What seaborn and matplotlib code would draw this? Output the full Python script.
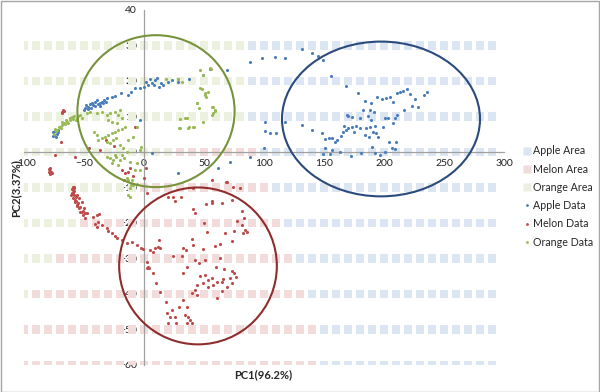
import numpy as np
import pandas as pd
import matplotlib
matplotlib.use("Agg")
import matplotlib.pyplot as plt
import seaborn as sns
from matplotlib.patches import Ellipse, Rectangle
from matplotlib.lines import Line2D

# area map: one string per row, one letter per cell (x = -100..290 step 10)
area_x = list(range(-100, 300, 10))
area_y = [30, 20, 10, 0, -10, -20, -30, -40, -50, -60]
area_rows = [
    "O" * 19 + "A" * 21,
    "O" * 19 + "A" * 21,
    "O" * 19 + "A" * 21,
    "O" * 13 + "M" * 7 + "A" * 20,
    "O" * 10 + "M" * 11 + "A" * 19,
    "O" * 5 + "M" * 17 + "A" * 18,
    "O" * 3 + "M" * 20 + "A" * 17,
    "O" * 1 + "M" * 23 + "A" * 16,
    "M" * 25 + "A" * 15,
    "M" * 25 + "A" * 15,
]
area_names = {"A": "Apple Area", "M": "Melon Area", "O": "Orange Area"}

apple_x = [-75.5, -74.7, -73.6, -72.8, -71.4, -76, -74, -72,
           -49, -48, -46.4, -43.6, -42.2, -40.8, -38.6, -36.7, -35, -33, -31, -50, -47, -45, -44, -41,
           -39, -37, -34, -32, -27, -24, -19, -13, -11, -7.5, 0.3, 3.6, 6.4, 9, 12.5, 16, 19.7, 23,
           28.6, 37.5, 49.4, 55, 69, 2, 5, 8, 11, 14, -3,
           -3.3, 7, 28, 62, 71.6, 88, 100,
           88, 98.6, 109, 117.5, 131.4, 139.7, 144.7, 149, 155.6, 168,
           101, 101, 105, 110, 117.5, 132, 140,
           178, 184, 189, 194, 169, 170, 173, 180, 182.8, 188, 191.7, 186.7, 189, 198, 202, 205,
           207.6, 210.5, 213, 215.8, 219, 221.7, 226, 228, 233, 236, 223, 216.7, 210.5, 209, 207.6,
           203.6, 201, 199.4, 192.5, 188, 185, 180, 176.7, 173, 170, 166.7, 165.6, 168.6, 175, 184,
           190.6, 193, 195, 187.5, 164, 160.8, 159, 157, 154.5, 150.8, 148, 150.8, 149.4, 155, 157,
           163, 172.5, 181, 189.7, 192.5, 196.7, 201, 204.4, 207, 210, 209]
apple_y = [5.5, 4.8, 4.3, 5.2, 5.7, 4.4, 6.0, 6.3,
           12.3, 13.2, 12.8, 13.7, 13.1, 14.2, 13.5, 13.7, 14.2, 14.6, 15.1, 11.8, 12.0, 13.5, 12.5, 13.0,
           14.6, 12.9, 13.9, 14.0, 15.6, 15.9, 16.5, 16, 16.9, 17.9, 18.4, 18.9, 19.4, 20.3, 18.4, 18.9, 19.8, 20.3,
           19.8, 20.5, 21.7, 23.3, 23.1, 19.8, 20.6, 19.0, 20.8, 19.5, 18.0,
           9, -0.4, -6, -4.6, -2.7, -1.3, 1,
           25.4, 26.5, 26.8, 26.4, 28.9, 27.8, 27, 25.9, 21.4, 18.6,
           8.5, 5.9, 5.3, 5.3, 8.5, 7.6, 6.2,
           16.5, 14.5, 13.7, 15.6, 10.4, 10, 9.8, 9.5, 11.8, 11.8, 11.4, 10.1, 9, 14.8, 15.1, 15.6,
           14.2, 16.5, 16.8, 17.3, 17.7, 16.3, 14.8, 12.8, 16, 17, 13, 11.8, 10.4, 9.5, 8.3,
           9.5, 9.5, 7.1, 7.3, 7.1, 6.7, 6.7, 7.3, 7.1, 6.7, 7.3, 5.7, 6.2, 5.7, 4.8,
           5.7, 5.3, 4.3, 4.3, 4.5, 3.4, 2.9, 3.9, 3.9, 3.6, 5.4, 1, -0.6, -0.6, 0.6,
           0, -1.1, -0.4, 1.5, -0.4, -0.8, 0.1, 2.9, 1, 2.9, 0.8]

melon_x = [-79, -78.3, -78, -77.5, -77, -79.5, -78.5,
           -68.6, -67.8, -67, -68.5, -69.4, -74, -57.5, -36.7, -31.7, -24.7, -7.5, -13, -18.6, -11.7,
           -17, -15.8, 1.4, 0.3, 2.2, -46, -9.4,
           56.4, 68.3, 74.4, 20.3, 24.4, 25.8, 30.6, 41, 42.5, 51.7, 56.4, 56.4, 64.7, 73, 81.4, 77.2,
           83.3, 81.4, 84, 82.8, 85.6, 75.3, 67.5, 73, 63.3, 59, 50.3, 52.2, 39.7, 41, 49.4, 32.2, 35,
           24, 31.4, 42.5, 46, 50.8, 63.3, 59.7, 67, 73, 75.3, 76.7, 71.7, 73, 69, 66, 64.7, 60.6, 57.8,
           56.4, 53.6, 50.8, 46.7, 43.9, 48.9, 53.6, 64.7, 60.6, 35.6, 32.2, 42.5, 39.7, 43.9, 32.8,
           29.4, 35.6, 34, 36.9, 38.3, 39.7, 35.6, 25.8, 26.7, 21.7, 20.3, 18.9, 23, 18.3, 13.3, 10,
           7.8, 3.6, 4.4, 2.2, 2.8, 7.8, 9.2, 11.9, 13.3, 12.8, 5, -0.5, -2.8, -6, -10.3, -14.4, -18.6,
           -22.2, -24, -27, -29.7, -31, -35.3, -38, -39.4, -40.8, -42.8, -39, -37.2, -49, -50.6, -47.8,
           -52, -54, -55.5, -57.5, -59, -60.3, -59.5, -58.3,
           -60, -59.5, -58.5, -58, -57, -56.5, -55, -54.5, -53, -52, -51, -50, -49, -56, -57.8, -60.5,
           -59, -58, -55.8, -53.5, 41, 69, 80]
melon_y = [-4.8, -4.6, -5.3, -5.5, -6.0, -5.5, -6.2,
           11.4, 11.9, 11.6, 11, 2.9, -0.8, -1.3, 0.6, 3.4, 1.7, 7, -5.5, -5, -4.6,
           -7.9, -6, -4.6, -7.4, -11.6, 1, -6.9,
           -7.9, -8.4, -10, -12.8, -12.6, -13.7, -12.8, -16.2, -17.3, -14.6, -14.5, -13.7, -14.5, -13.4, -16.5, -19.4,
           -18.7, -20.6, -22, -22.7, -22.5, -22.3, -22.9, -25, -25.9, -26.5, -19.9, -22.5, -24.6, -26.2, -27.4, -27.1, -27.6,
           -29.3, -29.3, -30.4, -31.4, -30.4, -30, -32.3, -33, -33.4, -34.2, -35.1, -35.6, -37, -37.9, -35.9, -36.5, -36.5, -37.5,
           -35.6, -36, -34.6, -34.9, -37.5, -37, -38.1, -39.3, -41.2, -32.3, -34.2, -38.9, -39.8, -40.3, -41.7,
           -43.6, -43.6, -45.9, -46.4, -47.3, -48.3, -48.3, -46.4, -48.3, -46.4, -48.3, -45.4, -44.5, -42.2, -39.4, -36.8,
           -34, -32.3, -32.7, -32.7, -30.9, -28.1, -27.1, -26.7, -27.1, -24.8, -27.6, -27.4, -27.1, -26.2, -25.3, -25.7, -24.8,
           -24.3, -23.7, -22.7, -22.2, -21.5, -20.6, -19.6, -21, -20.3, -18.4, -17.7, -17.5, -18.7, -17.7, -17.3,
           -16.8, -15.9, -14.9, -14, -13, -11.6, -10.7, -9.8,
           -10.5, -11.5, -12.2, -11, -12.8, -13.8, -14.5, -13, -15.5, -14.2, -16.5, -15.8, -17.2, -15.2, -13.5, -12.2,
           -9.8, -10.1, -12, -16.8, -10.2, -8.4, -10.2]

orange_x = [-72.8, -70, -68.6, -67, -64.4, -61.7, -59, -56,
            -75, -74, -73, -71, -69.5, -68, -66, -65, -63, -62, -60, -58, -57, -55, -53, -52,
            -47.8, -45, -39.4, -35, -31, -28.6, -24, -20, -21.4, -29.7, -27, -22.8, -18.6,
            -42, -39.4, -38, -35, -32.5, -29.7, -27, -24, -21.4, -18.6, -15.8, -31, -28.6, -25.8, -23,
            -20, -17.2, -13, -9, -6, -31, -28.6, -25.6, -23, -20, -17, -27, -21.4, -24, -18.6, -14.4,
            -11.7, -6, -7.5, -3.3, -14.4, -10, -9, -6, -11.7, -13, -13, -10.8, -11.7, -2.8, -3.3,
            43.9, 46.7, 50.8, 49, 55, 57, 59, 57.8, 52, 34, 30, 37, 41, 28.6, 46.7, 55.6, 48, 53.6, 50.6,
            44, 46, 57.8, 59, 57, 30, 35.6, 29.4, 37.8, 42, 49.4, 18, 28.6, 31.4]
orange_y = [6.2, 7.1, 7.6, 8.1, 8.5, 9, 9.2, 9.5,
            5.2, 6.5, 5.8, 7.0, 6.8, 8.5, 7.8, 9.0, 8.2, 9.6, 9.8, 10.2, 9.0, 10.0, 10.5, 9.6,
            10.9, 11.3, 10.9, 11.4, 10.4, 10.9, 11.4, 11.8, 10.4, 9, 8.5, 8.1, 9.5,
            5.7, 4.8, 3.4, 3.8, 4.3, 4.8, 5.3, 5.7, 6.2, 6.6, 7.1, 2.9, 2.4, 3.3, 3.8,
            2, 1, 3.4, 4.3, 7.1, -1.3, -1.8, -2.3, -1.3, -2.3, -1.8, -3.2, -3.6, -0.8, -0.8, 0.1,
            -2.7, -3.2, -5, -5, -7.4, -8, -9.3, -8.9, -10.2, -12.1, -7.9, -9.3, -12.6, 1.5, 0.6,
            13.7, 17.9, 16.5, 21.7, 23.6, 12.8, 11.8, 10.9, 15.6, 9.5, 6.7, 6.7, 7.1, 20.7, 23.1, 23.4, 17.7, 16.9, 16,
            13.7, 12.3, 12.8, 11.6, 10.4, 9.2, 9.5, 6.7, 7, 7.1, 8.5, 20.7, 20.7, 19.8]

AREA_COLORS = {"Apple Area": "#DCE6F2", "Melon Area": "#F2DCDB", "Orange Area": "#EBF1DE"}
DATA_COLORS = {"Apple Data": "#4A7EBB", "Melon Data": "#BE4B48", "Orange Data": "#98B954"}


def main():
    sns.set_style("white")
    plt.rcParams["font.family"] = ["Lato", "DejaVu Sans"]

    grid = pd.DataFrame(
        [(x, y, area_names[c]) for y, row in zip(area_y, area_rows) for x, c in zip(area_x, row)],
        columns=["x", "y", "area"],
    )

    fig = plt.figure(figsize=(6, 3.92), dpi=100)
    ax = fig.add_axes([0.04, 0.069, 0.80, 0.9055])

    sns.scatterplot(data=grid, x="x", y="y", hue="area", palette=AREA_COLORS,
                    marker="s", s=34, linewidth=0, legend=False, ax=ax, zorder=1)

    for name, xs, ys in [("Apple Data", apple_x, apple_y),
                         ("Melon Data", melon_x, melon_y),
                         ("Orange Data", orange_x, orange_y)]:
        sns.scatterplot(x=xs, y=ys, color=DATA_COLORS[name], s=5, linewidth=0,
                        legend=False, ax=ax, zorder=3)

    # hand-drawn style circles
    ax.add_patch(Ellipse((10, 11.5), 131, 42.8, fill=False, ec="#77933C", lw=1.5, zorder=4))
    ax.add_patch(Ellipse((197.5, 9.3), 165, 43.6, fill=False, ec="#2A4B7C", lw=1.5, zorder=4))
    ax.add_patch(Ellipse((45, -32.1), 131.4, 44.2, fill=False, ec="#8E2E2C", lw=1.5, zorder=4))

    ax.set_xlim(-100, 300)
    ax.set_ylim(-60, 40)
    ax.set_xticks(range(-100, 301, 50))
    ax.set_yticks(range(-60, 41, 10))
    ax.set_xlabel("")
    ax.set_ylabel("")

    for side in ["top", "right"]:
        ax.spines[side].set_visible(False)
    ax.spines["left"].set_position(("data", 0))
    ax.spines["bottom"].set_position(("data", 0))
    for side in ["left", "bottom"]:
        ax.spines[side].set_color("#A0A0A0")
        ax.spines[side].set_linewidth(0.9)
    ax.tick_params(axis="both", direction="out", length=3, width=0.8, color="#A0A0A0",
                   labelsize=7.5, labelcolor="#222222", pad=2)
    ax.set_facecolor("none")

    fig.text(263 / 600, 1 - 375 / 392, "PC1(96.2%)", ha="center", va="center",
             fontsize=8, fontweight="bold")
    fig.text(16 / 600, 1 - 188 / 392, "PC2(3.37%)", ha="center", va="center",
             rotation=90, fontsize=8, fontweight="bold")

    handles = [Line2D([], [], ls="", marker="s", ms=5.5, mec="none", color=AREA_COLORS[k])
               for k in AREA_COLORS]
    handles += [Line2D([], [], ls="", marker="o", ms=2, mec="none", color=DATA_COLORS[k])
                for k in DATA_COLORS]
    labels = list(AREA_COLORS) + list(DATA_COLORS)
    ax.legend(handles, labels, loc="upper left", bbox_to_anchor=(519 / 600, 1 - 140 / 392),
              bbox_transform=fig.transFigure, frameon=False, fontsize=7.7,
              handlelength=0.5, handletextpad=0.35, labelspacing=0.68, borderpad=0)

    fig.add_artist(Rectangle((0.001, 0.001), 0.997, 0.997, transform=fig.transFigure,
                             fill=False, ec="#A6A6A6", lw=1))

    fig.savefig("out.png", dpi=100)


if __name__ == "__main__":
    main()
